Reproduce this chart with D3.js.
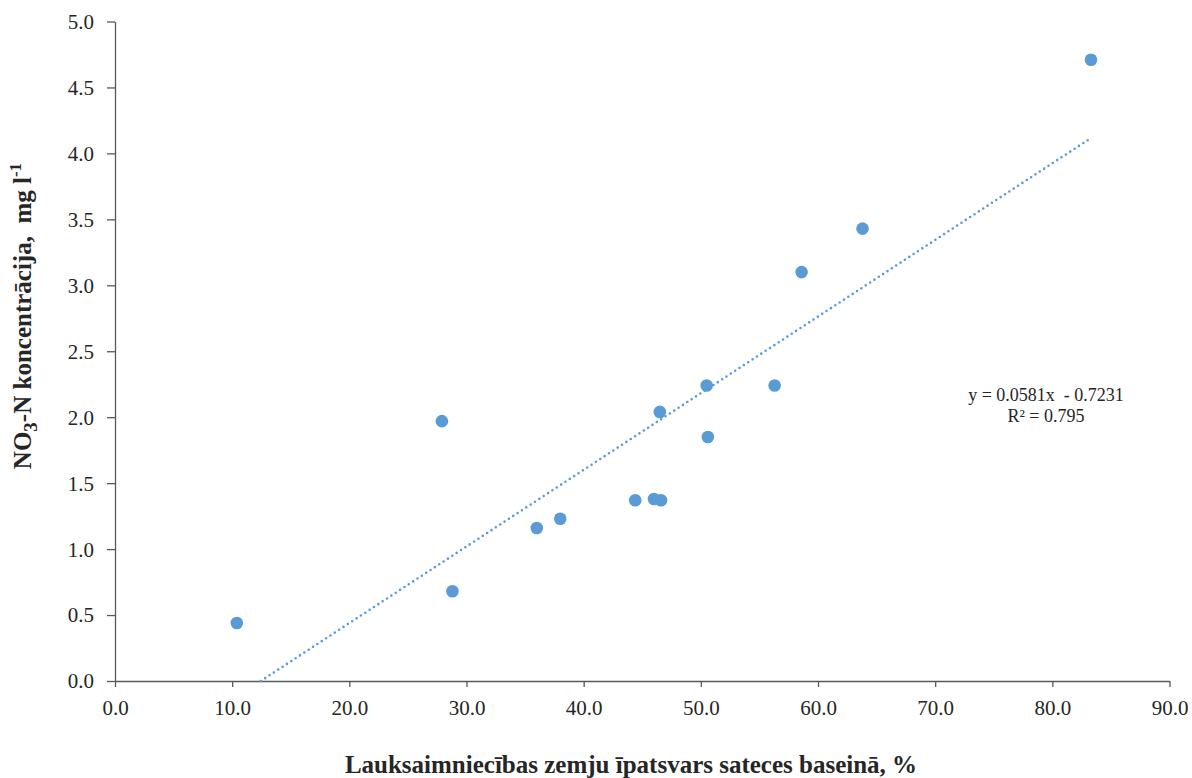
<!DOCTYPE html>
<html><head><meta charset="utf-8">
<script src="https://cdn.jsdelivr.net/npm/d3@7"></script>
<style>body{margin:0;background:#fff;} svg{display:block;}</style>
</head><body>
<svg id="c" width="1192" height="778"></svg>
<script>
const xValues = [10.4, 27.9, 28.8, 36.0, 38.0, 44.4, 46.0, 46.6, 46.5, 50.5, 50.6, 56.3, 58.6, 63.8, 83.3];
const yValues = [0.44, 1.97, 0.68, 1.16, 1.23, 1.37, 1.38, 1.37, 2.04, 2.24, 1.85, 2.24, 3.10, 3.43, 4.71];
const xTicks = [0,10,20,30,40,50,60,70,80,90];
const yTicks = [0,0.5,1,1.5,2,2.5,3,3.5,4,4.5,5];
const slope = 0.0581, intercept = -0.7231;
const equationLines = ["y = 0.0581x  - 0.7231", "R² = 0.795"];

const svg = d3.select("#c");
const font = "'Liberation Serif','Times New Roman',serif";
const x = d3.scaleLinear().domain([0,90]).range([115,1169.5]);
const y = d3.scaleLinear().domain([0,5]).range([681,21.5]);
const axisColor = "#595959";

const gx = svg.append("g").attr("transform","translate(0,681)")
  .call(d3.axisBottom(x).tickValues(xTicks).tickFormat(d3.format(".1f")).tickSize(6).tickSizeOuter(0));
const gy = svg.append("g").attr("transform","translate(115,0)")
  .call(d3.axisLeft(y).tickValues(yTicks).tickFormat(d3.format(".1f")).tickSize(8).tickSizeOuter(0));
[gx,gy].forEach(g=>{
  g.attr("font-family",null).attr("font-size",null);
  g.select(".domain").attr("stroke",axisColor).attr("stroke-width",1.3);
  g.selectAll(".tick line").attr("stroke",axisColor).attr("stroke-width",1.3);
  g.selectAll(".tick text").attr("fill","#262626").attr("font-family",font).attr("font-size","21px");
});
gx.selectAll(".tick text").attr("dy","0").attr("y",34);
gy.selectAll(".tick text").attr("x",-21).attr("dy","0.33em");

// trendline
const x0 = -intercept/slope, x1 = d3.max(xValues);
svg.append("line")
  .attr("x1",x(x0)).attr("y1",y(slope*x0+intercept))
  .attr("x2",x(x1)).attr("y2",y(slope*x1+intercept))
  .attr("stroke","#5b9bd5").attr("stroke-width",2.6)
  .attr("stroke-linecap","round").attr("stroke-dasharray","0 5.2");

// points
svg.selectAll("circle.pt").data(xValues.map((v,i)=>[v,yValues[i]])).enter()
  .append("circle").attr("class","pt")
  .attr("cx",d=>x(d[0])).attr("cy",d=>y(d[1])).attr("r",6.3)
  .attr("fill","#5b9bd5");

// equation
svg.append("text").attr("x",1046).attr("y",401).attr("text-anchor","middle")
  .attr("font-family",font).attr("font-size","18px").attr("fill","#262626")
  .style("white-space","pre").text(equationLines[0]);
svg.append("text").attr("x",1046).attr("y",422).attr("text-anchor","middle")
  .attr("font-family",font).attr("font-size","18px").attr("fill","#262626")
  .text(equationLines[1]);

// x title
svg.append("text").attr("x",631).attr("y",773).attr("text-anchor","middle")
  .attr("font-family",font).attr("font-size","25px").attr("font-weight","bold").attr("fill","#262626")
  .text("Lauksaimniecības zemju īpatsvars sateces baseinā, %");

// y title
const yt = svg.append("text").attr("transform","translate(31,316) rotate(-90)").attr("text-anchor","middle")
  .attr("font-family",font).attr("font-size","25px").attr("font-weight","bold").attr("fill","#262626")
  .style("white-space","pre");
yt.append("tspan").text("NO");
yt.append("tspan").text("3").attr("dy",6).attr("font-size","19px");
yt.append("tspan").text("-N koncentrācija,  mg l").attr("dy",-6);
yt.append("tspan").text("-1").attr("dy",-10).attr("font-size","17px");
</script>
</body></html>
